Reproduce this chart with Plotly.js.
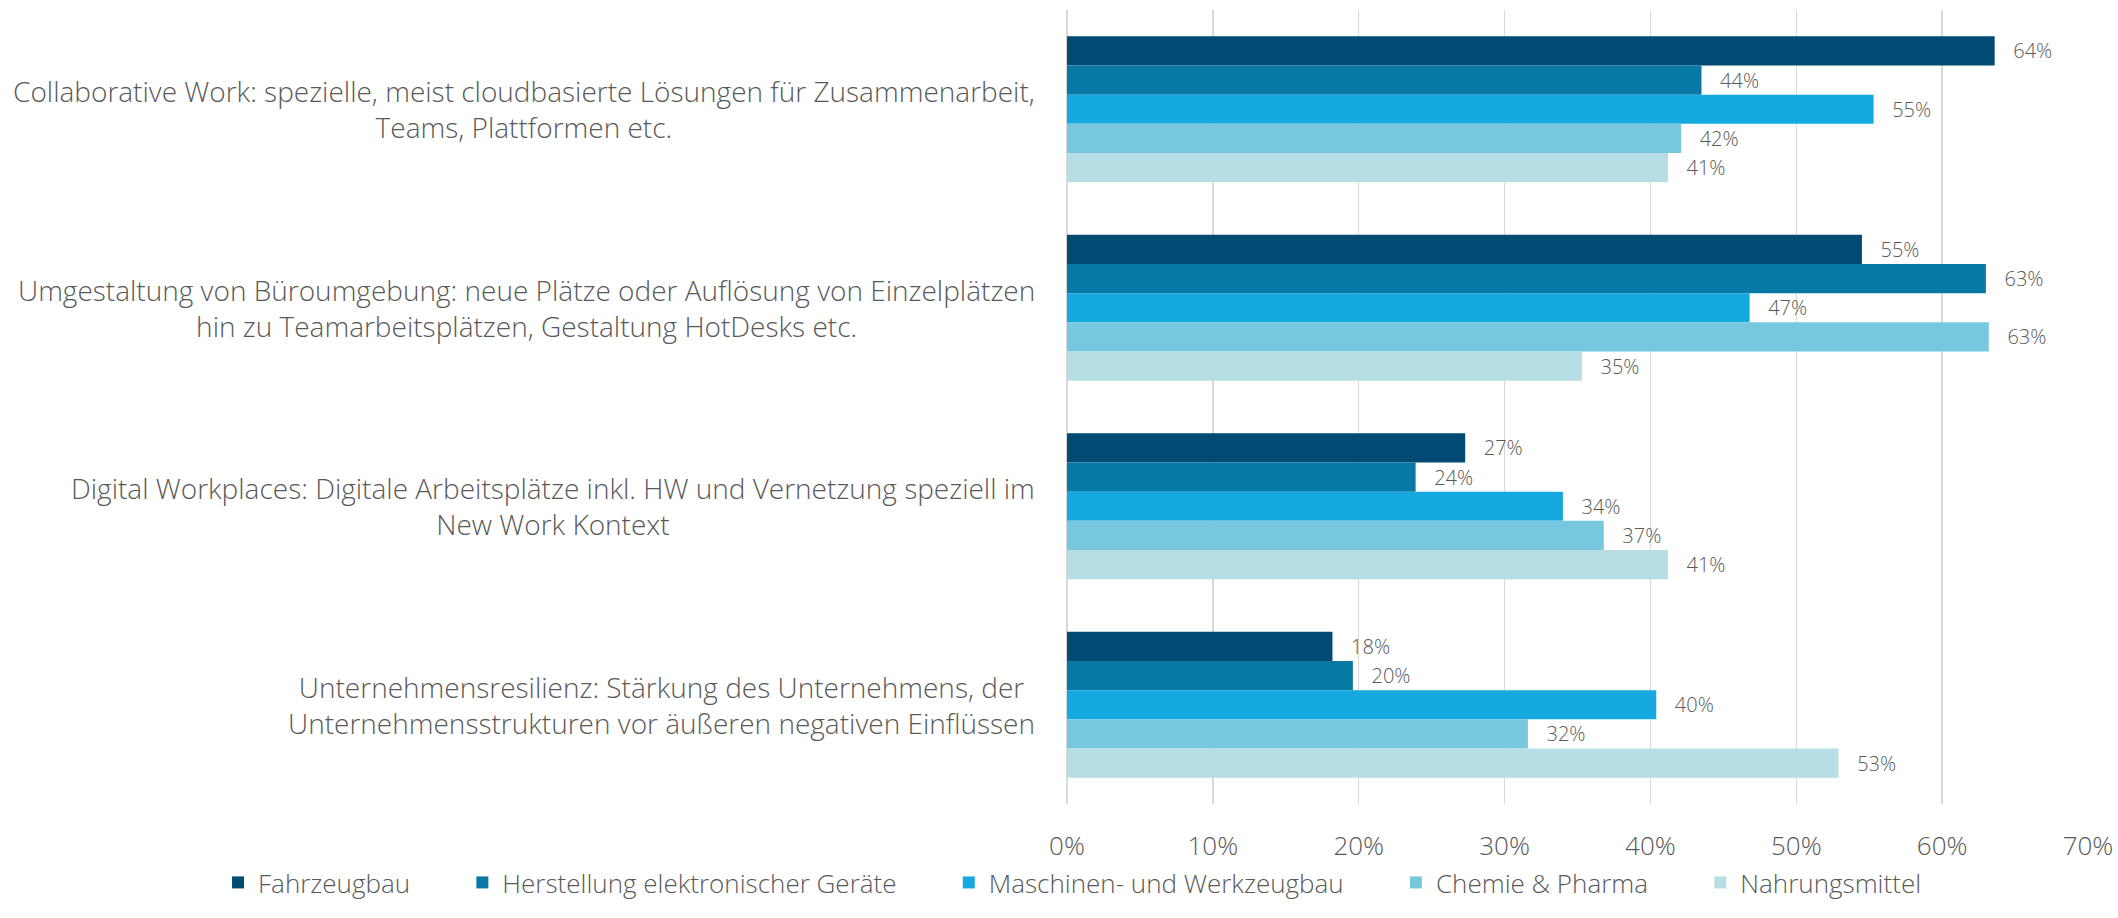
<!DOCTYPE html>
<html>
<head>
<meta charset="utf-8">
<script src="https://cdn.plot.ly/plotly-3.0.1.min.js"></script>
<style>
html,body{margin:0;padding:0;background:#fff;}
#chart{width:2118px;height:918px;}
</style>
</head>
<body>
<div id="chart"></div>
<script>
var categories = [
  "Collaborative Work: spezielle, meist cloudbasierte Lösungen für Zusammenarbeit,<br>Teams, Plattformen etc.",
  "Umgestaltung von Büroumgebung: neue Plätze oder Auflösung von Einzelplätzen<br>hin zu Teamarbeitsplätzen, Gestaltung HotDesks etc.",
  "Digital Workplaces: Digitale Arbeitsplätze inkl. HW und Vernetzung speziell im<br>New Work Kontext",
  "Unternehmensresilienz: Stärkung des Unternehmens, der<br>Unternehmensstrukturen vor äußeren negativen Einflüssen"
];
var seriesNames = ["Fahrzeugbau", "Herstellung elektronischer Geräte", "Maschinen- und Werkzeugbau", "Chemie & Pharma", "Nahrungsmittel"];
var fahrzeugbau = [63.6, 54.5, 27.3, 18.2];
var elektronik  = [43.5, 63.0, 23.9, 19.6];
var maschinen   = [55.3, 46.8, 34.0, 40.4];
var chemie      = [42.1, 63.2, 36.8, 31.6];
var nahrung     = [41.2, 35.3, 41.2, 52.9];
var xTicks = [0, 10, 20, 30, 40, 50, 60, 70];

var seriesValues = [fahrzeugbau, elektronik, maschinen, chemie, nahrung];
var colors = ["#014A73", "#0878A5", "#15A9E0", "#77C8DF", "#B6DEE4"];
var FONT = "Open Sans, Noto Sans, sans-serif";
var TXT = "#595959";
var legendPad = "\u00a0\u00a0\u00a0\u00a0\u00a0\u00a0\u00a0";

var traces = seriesValues.map(function(vals, i){
  return {
    type: "bar",
    orientation: "h",
    name: seriesNames[i] + (i < seriesValues.length - 1 ? legendPad : ""),
    y: categories,
    x: vals,
    marker: {color: colors[i], line: {width: 0}},
    texttemplate: "\u00a0\u00a0\u00a0%{x:.0f}%",
    textposition: "outside",
    textfont: {family: FONT, size: 20, color: TXT, weight: 300},
    cliponaxis: false,
    hoverinfo: "skip"
  };
});

var annotations = categories.map(function(c){
  return {
    xref: "paper", yref: "y",
    x: -0.029, y: c,
    xanchor: "right", yanchor: "middle",
    align: "center",
    text: c,
    showarrow: false,
    font: {family: FONT, size: 28, color: TXT, weight: 300}
  };
});

var layout = {
  width: 2118, height: 918,
  margin: {l: 1067, r: 30, t: 10, b: 114},
  paper_bgcolor: "#ffffff",
  plot_bgcolor: "#ffffff",
  barmode: "group",
  bargap: 0.265,
  bargroupgap: 0,
  showlegend: true,
  font: {family: FONT, color: TXT, weight: 300},
  xaxis: {
    range: [0, 70],
    tickvals: xTicks,
    ticktext: xTicks.map(function(v){return v + "%";}),
    showgrid: true,
    gridcolor: "#D9D9D9",
    gridwidth: 1.5,
    zeroline: true,
    zerolinecolor: "#D9D9D9",
    zerolinewidth: 1.5,
    showline: false,
    ticks: "",
    ticklabelstandoff: 24,
    tickfont: {family: FONT, size: 26, color: TXT, weight: 300},
    fixedrange: true
  },
  yaxis: {
    type: "category",
    autorange: "reversed",
    showticklabels: false,
    showgrid: false,
    zeroline: false,
    showline: false,
    ticks: "",
    fixedrange: true
  },
  legend: {
    orientation: "h",
    xref: "paper", yref: "paper",
    x: -0.8315, y: -0.1285,
    xanchor: "left", yanchor: "bottom",
    font: {family: FONT, size: 26, color: TXT, weight: 300},
    traceorder: "normal",
    itemclick: false, itemdoubleclick: false
  },
  annotations: annotations
};

Plotly.newPlot("chart", traces, layout, {displayModeBar: false, staticPlot: true});
</script>
</body>
</html>
